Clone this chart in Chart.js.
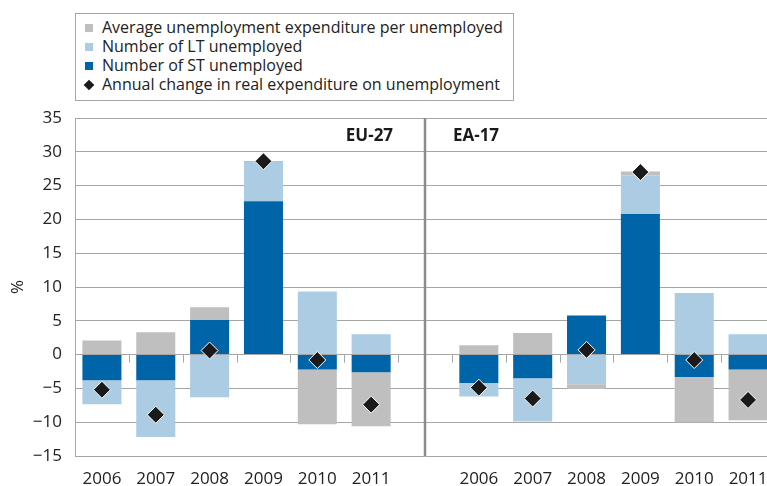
<!DOCTYPE html>
<html><head><meta charset="utf-8">
<script src="https://cdn.jsdelivr.net/npm/chart.js@4/dist/chart.umd.min.js"></script>
<style>
html,body{margin:0;padding:0;background:#fff;overflow:hidden;width:767px;height:486px;}
#wrap{position:relative;width:790px;height:486px;}
#legend{position:absolute;left:75px;top:13px;width:439px;height:88px;border:1px solid #a6a6a6;box-sizing:border-box;font-family:'Open Sans',sans-serif;font-size:16px;color:#222;padding-top:4px;background:#fff;}
.row{height:19px;line-height:19px;display:flex;align-items:center;white-space:nowrap;}
.sw{width:8px;height:8px;margin-left:9px;margin-right:9px;flex:none;}
.dm{width:8px;height:8px;margin-left:9px;margin-right:9px;flex:none;background:#1a1a1a;transform:rotate(45deg) scale(0.95);}
</style></head>
<body><div id="wrap"><canvas id="c" width="790" height="486"></canvas>
<div id="legend"></div></div>
<script>
const categories = ['2006','2007','2008','2009','2010','2011','','2006','2007','2008','2009','2010','2011'];
const panels = ['EU-27','EA-17'];
const stUnemployed = [-3.8,-3.8,5.1,22.7,-2.2,-2.6, null, -4.2,-3.5,5.8,20.8,-3.3,-2.2];
const ltUnemployed = [-3.55,-8.4,-6.3,5.8,9.35,3.0, null, -2.0,-6.4,-4.4,5.7,9.1,3.0];
const avgExpenditure = [2.1,3.3,1.9,0.15,-8.1,-8.0, null, 1.4,3.2,-0.7,0.6,-6.7,-7.5];
const annualChange = [-5.2,-8.9,0.6,28.6,-0.8,-7.4, null, -4.9,-6.5,0.7,27.0,-0.8,-6.7];
const yTicks = [35,30,25,20,15,10,5,0,-5,-10,-15];

const names = {
  avg:'Average unemployment expenditure per unemployed',
  lt:'Number of LT unemployed',
  st:'Number of ST unemployed',
  chg:'Annual change in real expenditure on unemployment'
};
const COL = {avg:'#bfbfbf', lt:'#abcce3', st:'#0064a8', chg:'#1a1a1a'};

// HTML legend
const lg = document.getElementById('legend');
[['avg','sw'],['lt','sw'],['st','sw'],['chg','dm']].forEach(([k,cls])=>{
  const r=document.createElement('div'); r.className='row';
  const s=document.createElement('span'); s.className=cls;
  if(cls==='sw') s.style.background=COL[k];
  const t=document.createElement('span'); t.textContent=names[k];
  r.appendChild(s); r.appendChild(t); lg.appendChild(r);
});

const FONT = "'Open Sans', sans-serif";
const GRID = '#a6a6a6';

const extras = {
  id:'extras',
  beforeDatasetsDraw(chart){
    const {ctx, chartArea:a, scales:{x,y}} = chart;
    const y0 = y.getPixelForValue(0);
    ctx.save();
    ctx.strokeStyle = GRID; ctx.lineWidth = 1;
    for(let i=0;i<categories.length-1;i++){
      const px = Math.round((x.getPixelForValue(i)+x.getPixelForValue(i+1))/2)+0.5;
      ctx.beginPath(); ctx.moveTo(px,y0); ctx.lineTo(px,y0+8); ctx.stroke();
    }
    const dx = x.getPixelForValue(6);
    ctx.strokeStyle = '#8c8c8c'; ctx.lineWidth = 2.5;
    ctx.beginPath(); ctx.moveTo(dx, a.top); ctx.lineTo(dx, a.bottom); ctx.stroke();
    ctx.fillStyle = '#1a1a1a';
    ctx.font = "bold 17px " + FONT;
    ctx.textBaseline = 'middle';
    ctx.textAlign = 'right';
    ctx.fillText(panels[0], (x.getPixelForValue(5)+x.getPixelForValue(6))/2 - 5, a.top + 18);
    ctx.textAlign = 'left';
    ctx.fillText(panels[1], (x.getPixelForValue(6)+x.getPixelForValue(7))/2 + 1, a.top + 18);
    ctx.restore();
  }
};

new Chart(document.getElementById('c'), {
  data:{
    labels: categories,
    datasets:[
      {type:'line', label:names.chg, data:annualChange, showLine:false, stack:'pts',
       pointStyle:'rectRot', pointRadius:8.5, pointHoverRadius:8.5,
       backgroundColor:COL.chg, borderColor:'#ffffff', borderWidth:1, order:0},
      {type:'bar', label:names.st, data:stUnemployed, backgroundColor:COL.st, stack:'s', order:1,
       barPercentage:0.725, categoryPercentage:1},
      {type:'bar', label:names.lt, data:ltUnemployed, backgroundColor:COL.lt, stack:'s', order:1,
       barPercentage:0.725, categoryPercentage:1},
      {type:'bar', label:names.avg, data:avgExpenditure, backgroundColor:COL.avg, stack:'s', order:1,
       barPercentage:0.725, categoryPercentage:1}
    ]
  },
  options:{
    responsive:false, animation:false,
    layout:{padding:{top:118,right:15,left:0,bottom:0}},
    plugins:{legend:{display:false}, tooltip:{enabled:false}},
    scales:{
      x:{stacked:true, grid:{display:false, drawTicks:false}, border:{display:false},
         ticks:{font:{family:FONT,size:17}, color:'#222', padding:13, maxRotation:0, autoSkip:false},
         afterFit(s){ s.height = 30; }},
      y:{stacked:true, min:-15, max:35,
         afterBuildTicks(s){ s.ticks = yTicks.map(v=>({value:v})); },
         grid:{color:GRID, lineWidth:1, drawTicks:false},
         border:{color:GRID, width:1},
         ticks:{font:{family:FONT,size:17}, color:'#222', padding:13,
                callback:v=> (v<0? '\u2212'+Math.abs(v) : ''+v)},
         title:{display:true, text:'%', font:{family:FONT,size:17}, color:'#222', padding:{top:8,bottom:0}},
         afterFit(s){ s.width = 75; }}
    }
  },
  plugins:[extras]
});
</script></body></html>
